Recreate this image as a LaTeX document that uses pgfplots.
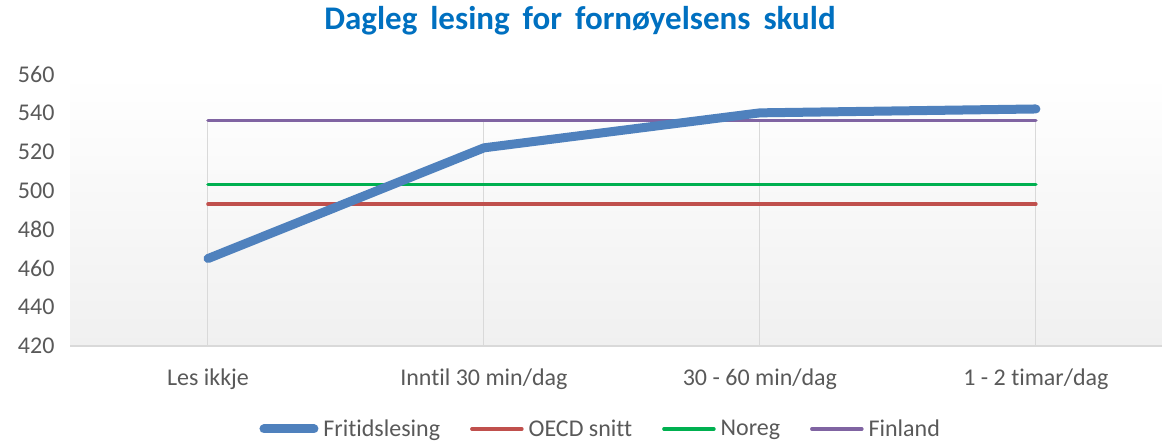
\documentclass[border=0pt]{standalone}
\usepackage{pgfplots}
\pgfplotsset{compat=1.18}
\usepackage{fontspec}
\setmainfont{Carlito}[Ligatures=NoCommon]
\definecolor{txtgray}{RGB}{89,89,89}
\definecolor{gridgray}{RGB}{217,217,217}
\definecolor{ttlblue}{RGB}{0,112,192}
\definecolor{sblue}{RGB}{79,129,189}
\definecolor{sred}{RGB}{192,80,77}
\definecolor{sgreen}{RGB}{0,176,80}
\definecolor{spurple}{RGB}{128,100,162}
\definecolor{bggray}{RGB}{240,240,240}
\begin{document}
\begin{tikzpicture}
\useasboundingbox (0,0) rectangle (1162bp,442bp);
\node[font=\fontsize{33bp}{37bp}\selectfont\bfseries, text=ttlblue] at (580bp,421bp) {Dagleg\, lesing\, for\, fornøyelsens\, skuld};
\begin{axis}[
  at={(70bp,96bp)}, anchor=south west,
  scale only axis, width=1092bp, height=272bp,
  xmin=-0.5, xmax=3.457, ymin=420, ymax=560,
  ytick={420,440,...,560},
  xtick={0,1,2,3},
  xticklabels={Les ikkje, Inntil 30 min/dag, 30 - 60 min/dag, 1 - 2 timar/dag},
  /pgf/number format/assume math mode=true,
  /pgf/number format/1000 sep={},
  axis x line*=bottom,
  axis y line*=left,
  x axis line style={draw=gridgray, line width=1.2bp, -},
  y axis line style={draw=none},
  major tick length=0pt,
  tick label style={font=\fontsize{24bp}{28bp}\selectfont, text=txtgray},
  yticklabel style={xshift=-12bp},
  xticklabel style={yshift=-19bp},
  axis background/.style={top color=white, bottom color=bggray},
  clip=false,
  legend style={at={(0.486,-0.305)}, anchor=center, draw=none, fill=none,
    legend columns=4, font=\fontsize{24bp}{28bp}\selectfont, text=txtgray,
    /tikz/every even column/.append style={column sep=28bp},
    inner sep=0pt},
  legend image code/.code={\draw[#1] (0bp,0bp) -- (50bp,0bp);},
  legend cell align=left,
]
\pgfplotsinvokeforeach{0,1,2,3}{\draw[gridgray, line width=1bp] (axis cs:#1,420) -- (axis cs:#1,536);}
\addplot[spurple, line width=3.5bp, line cap=round, forget plot] coordinates {(0,536) (1,536) (2,536) (3,536)};
\addplot[sred, line width=3.5bp, line cap=round, forget plot] coordinates {(0,493) (1,493) (2,493) (3,493)};
\addplot[sgreen, line width=3.5bp, line cap=round, forget plot] coordinates {(0,503) (1,503) (2,503) (3,503)};
\addplot[sblue, line width=9bp, line cap=round, line join=round, forget plot] coordinates {(0,465) (1,522) (2,540) (3,542)};
\addlegendimage{sblue, line width=9bp, line cap=round}
\addlegendentry{\hspace{3bp}Fritidslesing}
\addlegendimage{sred, line width=3.5bp, line cap=round}
\addlegendentry{\hspace{3bp}OECD snitt}
\addlegendimage{sgreen, line width=3.5bp, line cap=round}
\addlegendentry{\hspace{3bp}Noreg}
\addlegendimage{spurple, line width=3.5bp, line cap=round}
\addlegendentry{\hspace{3bp}Finland}
\end{axis}
\end{tikzpicture}
\end{document}
